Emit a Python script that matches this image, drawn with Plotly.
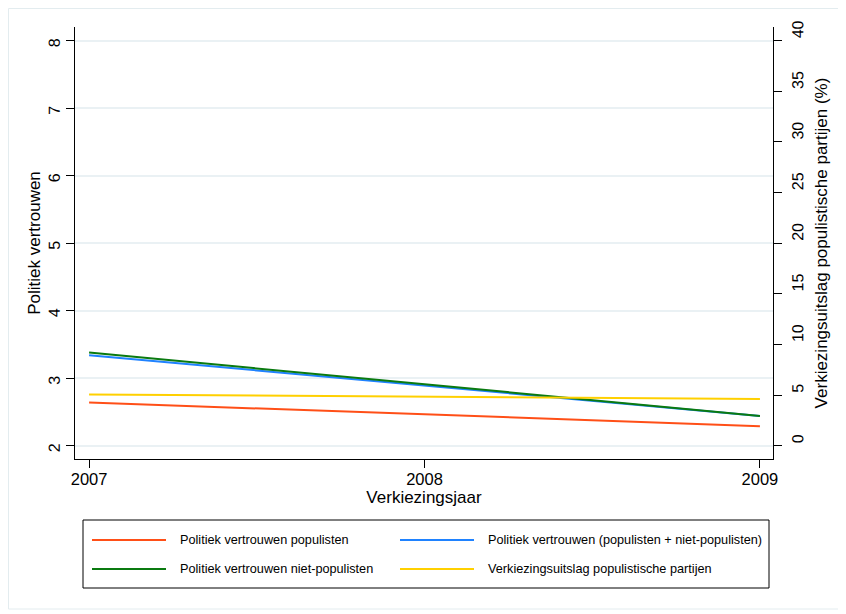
import plotly.graph_objects as go

# ---- data ----
years = [2007, 2008, 2009]
vertrouwen_populisten = [2.64, 2.47, 2.29]
vertrouwen_totaal = [3.34, 2.89, 2.44]
vertrouwen_niet_populisten = [3.38, 2.91, 2.44]
uitslag_populistisch = [5.07, 4.85, 4.61]

names = [
    "Politiek vertrouwen populisten",
    "Politiek vertrouwen (populisten + niet-populisten)",
    "Politiek vertrouwen niet-populisten",
    "Verkiezingsuitslag populistische partijen",
]
colors = ["#ff4f17", "#1f82ff", "#0a7a10", "#ffd000"]

left_ticks = [2, 3, 4, 5, 6, 7, 8]
right_ticks = [0, 5, 10, 15, 20, 25, 30, 35, 40]
x_ticks = [2007, 2008, 2009]

FONT = "Liberation Sans, Arial, Helvetica, sans-serif"

fig = go.Figure()
fig.add_trace(go.Scatter(x=years, y=vertrouwen_populisten, mode="lines",
                         line=dict(color=colors[0], width=2), name=names[0], showlegend=False))
fig.add_trace(go.Scatter(x=years, y=vertrouwen_totaal, mode="lines",
                         line=dict(color=colors[1], width=2), name=names[1], showlegend=False))
fig.add_trace(go.Scatter(x=years, y=vertrouwen_niet_populisten, mode="lines",
                         line=dict(color=colors[2], width=2), name=names[2], showlegend=False))
fig.add_trace(go.Scatter(x=years, y=uitslag_populistisch, mode="lines", yaxis="y2",
                         line=dict(color=colors[3], width=2), name=names[3], showlegend=False))

# page has an 8px body margin; figure is 838x606 so it fits the 846x614 window
OFF = 8
W, H = 846 - OFF, 614 - OFF
# plot area in page pixels
L, R, T, B = 75, 773, 27, 459
def px(x):
    return (x - L) / (R - L)
def py(y):
    return (B - y) / (B - T)

shapes = []
annotations = []
# outer border
shapes.append(dict(type="rect", xref="paper", yref="paper",
                   x0=px(8.5), x1=px(841), y0=py(8.5), y1=py(609),
                   line=dict(color="#e3ecef", width=1), fillcolor="rgba(0,0,0,0)", layer="below"))
# legend box
shapes.append(dict(type="rect", xref="paper", yref="paper",
                   x0=px(83), x1=px(769), y0=py(520), y1=py(588),
                   line=dict(color="#000000", width=1), fillcolor="white"))
legend_pos = [(92, 540), (400, 540), (92, 569), (400, 569)]
for (lx, ly), c, n in zip(legend_pos, colors, names):
    shapes.append(dict(type="line", xref="paper", yref="paper",
                       x0=px(lx), x1=px(lx + 74), y0=py(ly), y1=py(ly),
                       line=dict(color=c, width=2)))
    annotations.append(dict(xref="paper", yref="paper", x=px(lx + 86), y=py(ly),
                            text=n, showarrow=False, xanchor="left", yanchor="middle",
                            font=dict(size=12.7, color="#000000", family=FONT)))

fig.update_layout(
    width=W, height=H,
    margin=dict(l=L - OFF, r=W - (R - OFF), t=T - OFF, b=H - (B - OFF), autoexpand=False),
    paper_bgcolor="white", plot_bgcolor="white",
    font=dict(family=FONT, color="#000000"),
    showlegend=False,
    xaxis=dict(range=[2006.958, 2009.039], tickvals=x_ticks, ticktext=[str(v) for v in x_ticks],
               automargin=False,
               showgrid=False, zeroline=False, showline=True, linecolor="black", linewidth=1,
               ticks="outside", ticklen=8, tickcolor="black", tickfont=dict(size=16.5),
               ticklabelstandoff=-3,
               title=dict(text="Verkiezingsjaar", font=dict(size=17), standoff=0)),
    yaxis=dict(range=[1.803, 8.203], tickvals=left_ticks, ticktext=[str(v) for v in left_ticks],
               automargin=False,
               showgrid=True, gridcolor="#eaf1f4", gridwidth=1.5, zeroline=False,
               showline=True, linecolor="black", linewidth=1,
               ticks="outside", ticklen=8, tickcolor="black", tickangle=-89.9, tickfont=dict(size=16),
               ticklabelstandoff=11,
               title=dict(text="Politiek vertrouwen", font=dict(size=17), standoff=0)),
    yaxis2=dict(range=[-1.31, 41.35], tickvals=right_ticks, ticktext=[str(v) for v in right_ticks],
                automargin=False,
                overlaying="y", side="right", showgrid=False, zeroline=False,
                showline=True, linecolor="black", linewidth=1,
                ticks="outside", ticklen=8, tickcolor="black", tickangle=-89.9, tickfont=dict(size=16),
                ticklabelstandoff=10,
                title=dict(text="Verkiezingsuitslag populistische partijen (%)", font=dict(size=17), standoff=9)),
    shapes=shapes,
    annotations=annotations,
)

fig.write_html("out.html")
